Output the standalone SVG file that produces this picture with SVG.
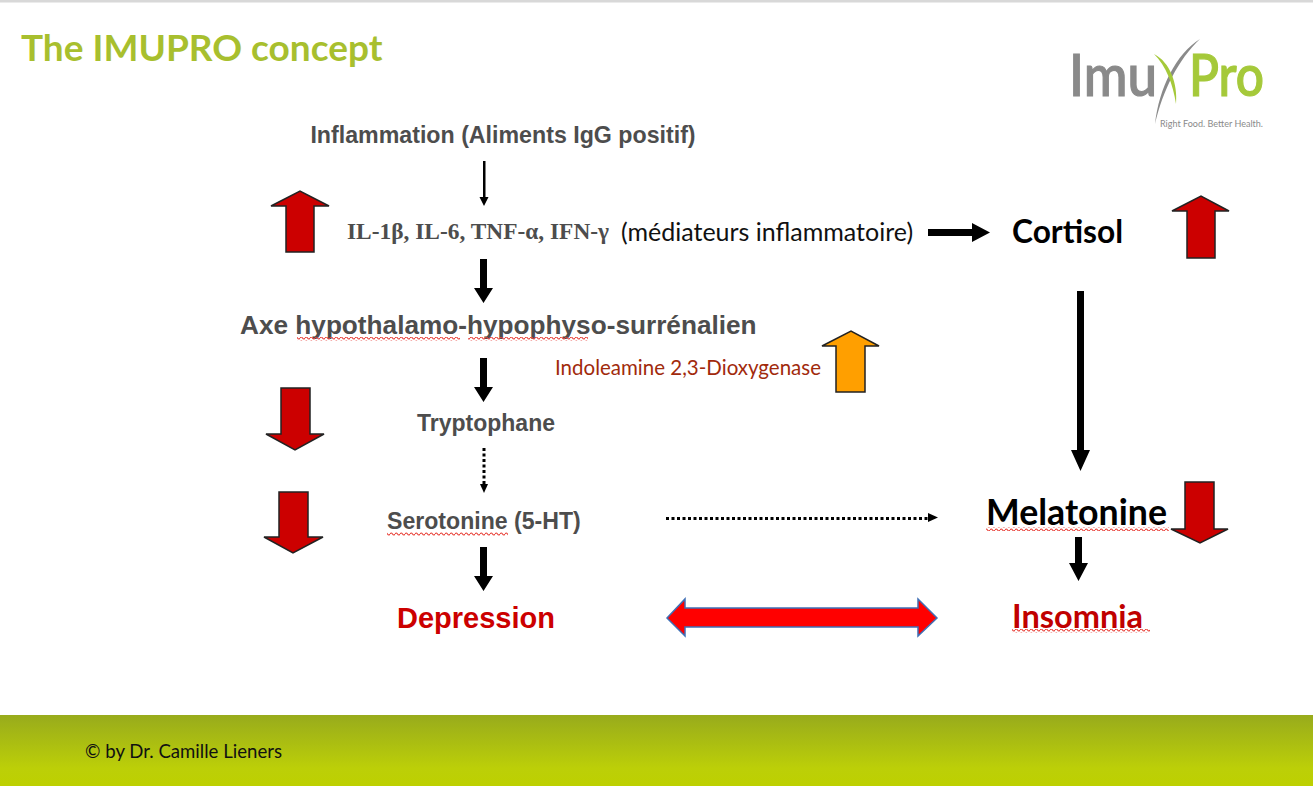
<svg xmlns="http://www.w3.org/2000/svg" width="1313" height="786" viewBox="0 0 1313 786">
<style>
.ar{font-family:"Liberation Sans",Arial,sans-serif;font-weight:700;fill:#4d4d4d}
.ca{font-family:Lato,"Open Sans",sans-serif}
.big{fill:#cc0000;stroke:#222;stroke-width:1.5}
.blk{fill:#000;stroke:none}
.sq{fill:url(#wave);stroke:none}
</style>
<defs>
<linearGradient id="band" x1="0" y1="0" x2="0" y2="1"><stop offset="0" stop-color="#98ab1c"/><stop offset="0.75" stop-color="#bccf08"/><stop offset="1" stop-color="#bdd000"/></linearGradient>
<pattern id="wave" width="5" height="4" patternUnits="userSpaceOnUse"><path d="M0 2Q1.25 0 2.5 2T5 2" fill="none" stroke="#e8423a" stroke-width="1.1"/></pattern>
</defs>
<rect width="1313" height="786" fill="#fff"/>
<rect width="1313" height="2.500" fill="#d8d8d8"/>
<g id="footer"><rect y="715" width="1313" height="71" fill="url(#band)"/><text x="85" y="757.500" class="ca" font-size="18.600" fill="#111">© by Dr. Camille Lieners</text></g>
<g id="title"><text x="21" y="61" class="ca" font-size="37" font-weight="700" fill="#a8bf2e">The IMUPRO concept</text></g>
<g id="logo">
<text x="1069" y="96" font-family="Lato,sans-serif" font-weight="500" font-size="57" fill="#8a8a8a" stroke="#8a8a8a" stroke-width="1.200" textLength="88" lengthAdjust="spacingAndGlyphs">Imu</text>
<text x="1189" y="96" font-family="Lato,sans-serif" font-weight="500" font-size="57" fill="#a5c93a" stroke="#a5c93a" stroke-width="1.200" textLength="75" lengthAdjust="spacingAndGlyphs">Pro</text>
<path d="M1200 39C1176 54 1159 88 1155 124C1163 90 1178 60 1200 39Z" fill="#8a8a8a"/>
<path d="M1154 54C1170 62 1178 84 1176 104C1173 84 1166 66 1154 54Z" fill="#a5c93a"/>
<text x="1160" y="127" font-family="Lato,sans-serif" font-size="10" fill="#8a8a8a" textLength="103" lengthAdjust="spacingAndGlyphs">Right Food. Better Health.</text>
</g>
<g id="connectors">
<path class="blk" d="M483 161h2.500v36h3l-4.500 9l-4.500-9h3.500z"/>
<path class="blk" d="M480 259h7v29h6l-9.500 15l-9.500-15h6z"/>
<path class="blk" d="M480 358h7v29h6l-9.500 15l-9.500-15h6z"/>
<path class="blk" d="M928 229h44v-6l18 9.500l-18 9.500v-6h-44z"/>
<path class="blk" d="M1077 291h7v159h6l-9.500 21l-9.500-21h6z"/>
<path class="blk" d="M1075 537h7v26h6l-9.500 18l-9.500-18h6z"/>
<path class="blk" d="M480 547h7v29h6l-9.500 15l-9.500-15h6z"/>
<path d="M484 448V484" fill="none" stroke="#000" stroke-width="3" stroke-dasharray="3 2.500"/>
<path class="blk" d="M480 484h8l-4 9z"/>
<path d="M666 518.500H928" fill="none" stroke="#000" stroke-width="3" stroke-dasharray="3 2.500"/>
<path class="blk" d="M928 513l10 4.500l-10 4.500z"/>
<path d="M667 618L685 599V608H918V599L937 618L918 636V627H685V636Z" fill="#ff0000" stroke="#3f6fb5" stroke-width="1.500"/>
</g>
<g id="n-inflammation"><text x="503" y="143" text-anchor="middle" class="ar" font-size="23.200">Inflammation (Aliments IgG positif)</text></g>
<g id="up-il"><path class="big" d="M286 252V206H271L300 191L329 206H314V252Z"/></g>
<g id="n-mediators">
<text x="347" y="239" font-family="'Liberation Serif',serif" font-weight="700" font-size="23.400" fill="#4d4d4d">IL-1β, IL-6, TNF-α, IFN-γ</text>
<text x="621" y="241" class="ca" font-size="25" fill="#111">(médiateurs inflammatoire)</text>
</g>
<g id="n-cortisol"><text x="1012" y="243" class="ca" font-size="31.700" font-weight="700" fill="#000">Cortisol</text></g>
<g id="up-cortisol"><path class="big" d="M1187 258V211H1172L1201 196L1229 211H1215V258Z"/></g>
<g id="n-axe"><text x="240" y="334" class="ar" font-size="26.200">Axe hypothalamo-hypophyso-surrénalien</text><rect class="sq" x="297" y="337" width="163" height="4"/><rect class="sq" x="468" y="337" width="120" height="4"/></g>
<g id="n-ido"><text x="555" y="375" class="ca" font-size="20.500" fill="#a12a0c">Indoleamine 2,3-Dioxygenase</text></g>
<g id="up-ido"><path d="M836 392V346H822L851 331L879 346H865V392Z" fill="#ff9f00" stroke="#222" stroke-width="1.500"/></g>
<g id="down-axe"><path class="big" d="M281 388H310V434H324L295 450L266 434H281Z"/></g>
<g id="n-trp"><text x="486" y="431" text-anchor="middle" class="ar" font-size="23">Tryptophane</text></g>
<g id="down-5ht"><path class="big" d="M279 492H308V537H323L293 553L264 537H279Z"/></g>
<g id="n-5ht"><text x="387" y="529" class="ar" font-size="23.100">Serotonine (5-HT)</text><rect class="sq" x="387" y="532" width="121" height="4"/></g>
<g id="n-mel"><text x="986" y="525" class="ca" font-size="35.700" font-weight="700" fill="#000">Melatonine</text><rect class="sq" x="986" y="527" width="183" height="4"/></g>
<g id="down-mel"><path class="big" d="M1185 482H1214V529H1228L1200 543L1171 529H1185Z"/></g>
<g id="n-dep"><text x="397" y="627.500" class="ar" font-size="29" style="fill:#cc0000">Depression</text></g>
<g id="n-ins"><text x="1012" y="628" class="ca" font-size="32.500" font-weight="700" fill="#c00000">Insomnia</text><rect class="sq" x="1012" y="629" width="138" height="4"/></g>
</svg>
